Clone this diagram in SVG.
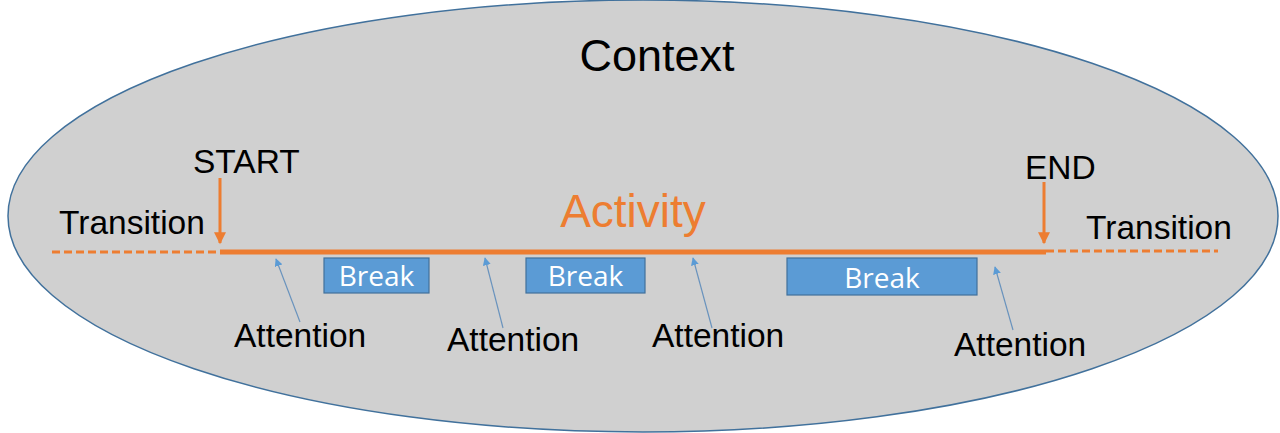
<svg xmlns="http://www.w3.org/2000/svg" width="1280" height="433" viewBox="0 0 1280 433">
<style>
.lbl{font-family:"Liberation Sans",Arial,sans-serif;font-size:33.5px;fill:#000}
.brk rect{fill:#5b9bd5;stroke:#41719c;stroke-width:1.2}
.brk text{font-family:"Open Sans","Noto Sans",sans-serif;font-size:28px;fill:#fff;text-anchor:middle}
.att{stroke:#6a93bd;stroke-width:1.2;fill:none}
.or{stroke:#ed7d31;fill:none}
</style>
<defs>
<marker id="ah" viewBox="0 0 10 10" refX="9" refY="5" markerWidth="8" markerHeight="8" markerUnits="userSpaceOnUse" orient="auto"><path d="M0,0 L10,5 L0,10 z" fill="#5b9bd5"/></marker>
<marker id="oh" viewBox="0 0 10 10" refX="9" refY="5" markerWidth="14" markerHeight="12" markerUnits="userSpaceOnUse" orient="auto"><path d="M0,0 L10,5 L0,10 z" fill="#ed7d31"/></marker>
</defs>
<g id="context">
<ellipse cx="643" cy="216" rx="635" ry="216" fill="#d0d0d0" stroke="#41719c" stroke-width="1.5"/>
<text x="657" y="71" font-family="Liberation Sans,Arial,sans-serif" font-size="45" text-anchor="middle" fill="#000">Context</text>
</g>
<g id="activity">
<text x="633" y="227" font-family="Liberation Sans,Arial,sans-serif" font-size="46" text-anchor="middle" fill="#ed7d31">Activity</text>
</g>
<g id="connectors">
<line class="or" x1="52" y1="252" x2="220" y2="252" stroke-width="3" stroke-dasharray="8,4"/>
<line class="or" x1="1046" y1="251" x2="1218" y2="251" stroke-width="3" stroke-dasharray="8,4"/>
<line class="or" x1="220" y1="252" x2="1046" y2="252" stroke-width="5"/>
<line class="or" x1="220" y1="178" x2="220" y2="243" stroke-width="3" marker-end="url(#oh)"/>
<line class="or" x1="1044" y1="182" x2="1044" y2="243" stroke-width="3" marker-end="url(#oh)"/>
<line class="att" x1="300" y1="322" x2="276" y2="259" marker-end="url(#ah)"/>
<line class="att" x1="503" y1="328" x2="485" y2="258" marker-end="url(#ah)"/>
<line class="att" x1="712" y1="328" x2="693" y2="258" marker-end="url(#ah)"/>
<line class="att" x1="1013" y1="330" x2="995" y2="267" marker-end="url(#ah)"/>
</g>
<g id="start"><text class="lbl" x="193" y="173">START</text></g>
<g id="end"><text class="lbl" x="1025" y="179">END</text></g>
<g id="transition-left"><text class="lbl" x="59" y="234">Transition</text></g>
<g id="transition-right"><text class="lbl" x="1086" y="239">Transition</text></g>
<g id="break1" class="brk"><rect x="324" y="258" width="105" height="35"/><text x="376.5" y="286">Break</text></g>
<g id="break2" class="brk"><rect x="526" y="258" width="119" height="35"/><text x="585.5" y="286">Break</text></g>
<g id="break3" class="brk"><rect x="787" y="258" width="190" height="37"/><text x="882" y="288">Break</text></g>
<g id="attention1"><text class="lbl" x="234" y="347">Attention</text></g>
<g id="attention2"><text class="lbl" x="447" y="351">Attention</text></g>
<g id="attention3"><text class="lbl" x="652" y="347">Attention</text></g>
<g id="attention4"><text class="lbl" x="954" y="356">Attention</text></g>
</svg>
